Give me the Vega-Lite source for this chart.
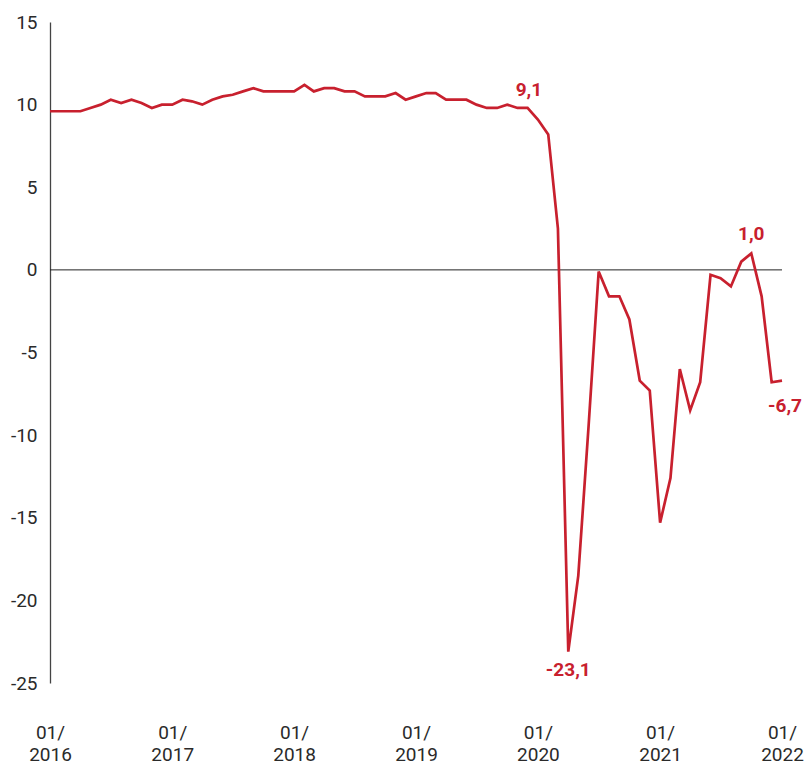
{
  "$schema": "https://vega.github.io/schema/vega-lite/v6.json",
  "description": "Monthly index 01/2016 to 01/2022 with pandemic slump",
  "width": 732,
  "height": 661,
  "autosize": {"type": "none"},
  "padding": {"left": 50, "top": 22, "right": 23, "bottom": 83},
  "background": "white",
  "config": {"view": {"stroke": null}, "font": "Roboto"},
  "data": {
    "values": [
      {"date": "2016-01", "v": 9.6}, {"date": "2016-02", "v": 9.6}, {"date": "2016-03", "v": 9.6},
      {"date": "2016-04", "v": 9.6}, {"date": "2016-05", "v": 9.8}, {"date": "2016-06", "v": 10.0},
      {"date": "2016-07", "v": 10.3}, {"date": "2016-08", "v": 10.1}, {"date": "2016-09", "v": 10.3},
      {"date": "2016-10", "v": 10.1}, {"date": "2016-11", "v": 9.8}, {"date": "2016-12", "v": 10.0},
      {"date": "2017-01", "v": 10.0}, {"date": "2017-02", "v": 10.3}, {"date": "2017-03", "v": 10.2},
      {"date": "2017-04", "v": 10.0}, {"date": "2017-05", "v": 10.3}, {"date": "2017-06", "v": 10.5},
      {"date": "2017-07", "v": 10.6}, {"date": "2017-08", "v": 10.8}, {"date": "2017-09", "v": 11.0},
      {"date": "2017-10", "v": 10.8}, {"date": "2017-11", "v": 10.8}, {"date": "2017-12", "v": 10.8},
      {"date": "2018-01", "v": 10.8}, {"date": "2018-02", "v": 11.2}, {"date": "2018-03", "v": 10.8},
      {"date": "2018-04", "v": 11.0}, {"date": "2018-05", "v": 11.0}, {"date": "2018-06", "v": 10.8},
      {"date": "2018-07", "v": 10.8}, {"date": "2018-08", "v": 10.5}, {"date": "2018-09", "v": 10.5},
      {"date": "2018-10", "v": 10.5}, {"date": "2018-11", "v": 10.7}, {"date": "2018-12", "v": 10.3},
      {"date": "2019-01", "v": 10.5}, {"date": "2019-02", "v": 10.7}, {"date": "2019-03", "v": 10.7},
      {"date": "2019-04", "v": 10.3}, {"date": "2019-05", "v": 10.3}, {"date": "2019-06", "v": 10.3},
      {"date": "2019-07", "v": 10.0}, {"date": "2019-08", "v": 9.8}, {"date": "2019-09", "v": 9.8},
      {"date": "2019-10", "v": 10.0}, {"date": "2019-11", "v": 9.8}, {"date": "2019-12", "v": 9.8},
      {"date": "2020-01", "v": 9.1}, {"date": "2020-02", "v": 8.2}, {"date": "2020-03", "v": 2.5},
      {"date": "2020-04", "v": -23.1}, {"date": "2020-05", "v": -18.5}, {"date": "2020-06", "v": -9.4},
      {"date": "2020-07", "v": -0.1}, {"date": "2020-08", "v": -1.6}, {"date": "2020-09", "v": -1.6},
      {"date": "2020-10", "v": -3.0}, {"date": "2020-11", "v": -6.7}, {"date": "2020-12", "v": -7.3},
      {"date": "2021-01", "v": -15.3}, {"date": "2021-02", "v": -12.6}, {"date": "2021-03", "v": -6.0},
      {"date": "2021-04", "v": -8.5}, {"date": "2021-05", "v": -6.8}, {"date": "2021-06", "v": -0.3},
      {"date": "2021-07", "v": -0.5}, {"date": "2021-08", "v": -1.0}, {"date": "2021-09", "v": 0.5},
      {"date": "2021-10", "v": 1.0}, {"date": "2021-11", "v": -1.6}, {"date": "2021-12", "v": -6.8},
      {"date": "2022-01", "v": -6.7}
    ]
  },
  "layer": [
    {
      "data": {"values": [{"zero": 0}]},
      "mark": {"type": "rule", "color": "#222222", "strokeWidth": 1},
      "encoding": {
        "y": {"field": "zero", "type": "quantitative"}
      }
    },
    {
      "mark": {"type": "line", "color": "#c8202e", "strokeWidth": 2.7, "strokeJoin": "miter"},
      "encoding": {
        "x": {
          "field": "date",
          "type": "temporal",
          "scale": {"type": "utc", "domain": [{"year": 2016, "month": 1, "date": 1, "utc": true}, {"year": 2022, "month": 1, "date": 1, "utc": true}]},
          "axis": {
            "title": null,
            "domain": false,
            "ticks": false,
            "grid": false,
            "values": [
              {"year": 2016, "month": 1, "date": 1, "utc": true},
              {"year": 2017, "month": 1, "date": 1, "utc": true},
              {"year": 2018, "month": 1, "date": 1, "utc": true},
              {"year": 2019, "month": 1, "date": 1, "utc": true},
              {"year": 2020, "month": 1, "date": 1, "utc": true},
              {"year": 2021, "month": 1, "date": 1, "utc": true},
              {"year": 2022, "month": 1, "date": 1, "utc": true}
            ],
            "labelExpr": "['01/', utcFormat(datum.value, '%Y')]",
            "labelFontSize": 19,
            "labelColor": "#2a2a2a",
            "labelLineHeight": 22,
            "labelPadding": 40,
            "labelBaseline": "top",
            "labelAlign": "center",
            "labelOverlap": false
          }
        },
        "y": {
          "field": "v",
          "type": "quantitative",
          "scale": {"domain": [-25, 15], "nice": false, "zero": false},
          "axis": {
            "title": null,
            "values": [-25, -20, -15, -10, -5, 0, 5, 10, 15],
            "labelExpr": "'' + datum.value",
            "grid": false,
            "ticks": false,
            "domainColor": "#444444",
            "domainWidth": 1.3,
            "labelFontSize": 19,
            "labelColor": "#2a2a2a",
            "labelPadding": 13
          }
        }
      }
    },
    {
      "transform": [{"filter": "datum.v === 9.1"}],
      "mark": {"type": "text", "fontWeight": "bold", "fontSize": 19, "color": "#c8202e", "baseline": "alphabetic", "dx": -9, "dy": -23},
      "encoding": {
        "x": {"field": "date", "type": "temporal"},
        "y": {"field": "v", "type": "quantitative"},
        "text": {"value": "9,1"}
      }
    },
    {
      "transform": [{"filter": "datum.v === -23.1"}],
      "mark": {"type": "text", "fontWeight": "bold", "fontSize": 19, "color": "#c8202e", "baseline": "alphabetic", "dx": 0, "dy": 24},
      "encoding": {
        "x": {"field": "date", "type": "temporal"},
        "y": {"field": "v", "type": "quantitative"},
        "text": {"value": "-23,1"}
      }
    },
    {
      "transform": [{"filter": "datum.v === 1.0"}],
      "mark": {"type": "text", "fontWeight": "bold", "fontSize": 19, "color": "#c8202e", "baseline": "alphabetic", "dx": 0, "dy": -13},
      "encoding": {
        "x": {"field": "date", "type": "temporal"},
        "y": {"field": "v", "type": "quantitative"},
        "text": {"value": "1,0"}
      }
    },
    {
      "transform": [{"filter": "utcyear(datum.date) === 2022"}],
      "mark": {"type": "text", "fontWeight": "bold", "fontSize": 19, "color": "#c8202e", "baseline": "alphabetic", "dx": 3, "dy": 31},
      "encoding": {
        "x": {"field": "date", "type": "temporal"},
        "y": {"field": "v", "type": "quantitative"},
        "text": {"value": "-6,7"}
      }
    }
  ]
}
